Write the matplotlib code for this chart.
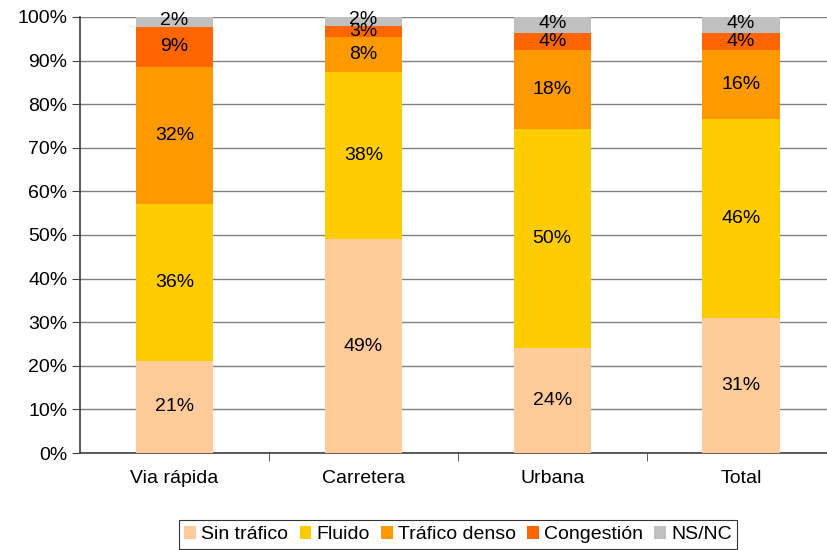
import matplotlib
matplotlib.use("Agg")
import matplotlib.pyplot as plt
import numpy as np

plt.rcParams['font.family'] = ['Liberation Sans', 'DejaVu Sans']

categories = ["Via rápida", "Carretera", "Urbana", "Total"]
series_names = ["Sin tráfico", "Fluido", "Tráfico denso", "Congestión", "NS/NC"]
sin_trafico = [21.2, 49.0, 24.1, 31.0]
fluido = [35.8, 38.3, 50.2, 45.6]
trafico_denso = [31.5, 8.2, 18.2, 15.9]
congestion = [9.3, 2.4, 3.8, 3.8]
ns_nc = [2.2, 2.1, 3.7, 3.7]
labels = [["21%", "49%", "24%", "31%"],
          ["36%", "38%", "50%", "46%"],
          ["32%", "8%", "18%", "16%"],
          ["9%", "3%", "4%", "4%"],
          ["2%", "2%", "4%", "4%"]]
colors = ["#FFCC99", "#FFCC00", "#FF9900", "#FF6600", "#C0C0C0"]

FS = 14

fig = plt.figure(figsize=(8.28, 5.5), dpi=100)
ax = fig.add_axes([80/828, 1 - 453/550, (828 - 80)/828, (453 - 17)/550])

x = np.arange(len(categories))
data = [sin_trafico, fluido, trafico_denso, congestion, ns_nc]
bottom = np.zeros(len(categories))
for i, (vals, name, col) in enumerate(zip(data, series_names, colors)):
    vals = np.array(vals)
    ax.bar(x, vals, 0.41, bottom=bottom, color=col, label=name, zorder=3)
    for j in range(len(categories)):
        yc = bottom[j] + vals[j] / 2
        if i == 4:
            yc = bottom[j] + vals[j] / 2 + 0.4
        ax.text(x[j], yc, labels[i][j], ha='center', va='center', fontsize=FS, color='black', zorder=4)
    bottom += vals

ax.set_ylim(0, 100)
ax.set_xlim(-0.5, 3.46)
ax.set_yticks(np.arange(0, 101, 10))
ax.set_yticklabels([f"{v}%" for v in range(0, 101, 10)], fontsize=FS)
ax.yaxis.grid(True, color='#808080', linewidth=1, zorder=0)
ax.set_axisbelow(True)
ax.set_xticks(x)
ax.set_xticklabels(categories, fontsize=FS)
ax.set_xticks([0.5, 1.5, 2.5], minor=True)
ax.tick_params(axis='x', which='major', length=0, pad=12)
ax.tick_params(axis='x', which='minor', length=6, color='#404040', direction='out')
ax.tick_params(axis='y', length=6, color='#404040', direction='out', pad=3)
for s in ['top', 'right']:
    ax.spines[s].set_visible(False)
ax.spines['left'].set_color('#404040')
ax.spines['bottom'].set_color('#404040')
ax.spines['left'].set_linewidth(1.2)
ax.spines['bottom'].set_linewidth(1.2)

leg = fig.legend(loc='lower center', bbox_to_anchor=(458/828, 0.0), ncol=5, fontsize=FS,
                 frameon=True, fancybox=False, edgecolor='black', handlelength=0.6,
                 handleheight=0.6, handletextpad=0.25, columnspacing=0.6, borderpad=0.3,
                 borderaxespad=0.05)
leg.get_frame().set_linewidth(0.8)

fig.savefig("out.png", dpi=100)
